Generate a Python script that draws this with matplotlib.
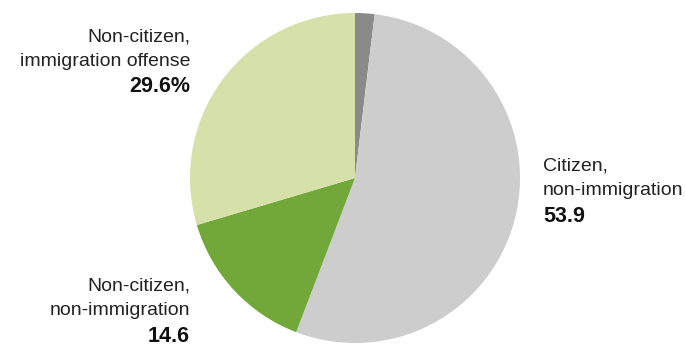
import matplotlib.pyplot as plt

plt.rcParams['font.family'] = ['Liberation Sans', 'DejaVu Sans']

categories = ["Other", "Citizen,\nnon-immigration", "Non-citizen,\nnon-immigration",
              "Non-citizen,\nimmigration offense"]
shares = [1.9, 53.9, 14.6, 29.6]
value_labels = ["", "53.9", "14.6", "29.6%"]
colors = ["#8a8a8a", "#cdcdcd", "#72a83a", "#d6e1aa"]

W, H = 686, 349
fig = plt.figure(figsize=(W / 100, H / 100), dpi=100)

# pie centred at (355, 178) px, radius 165 px
cx, cy, r = 355, 178, 165
ax = fig.add_axes([(cx - r) / W, 1 - (cy + r) / H, 2 * r / W, 2 * r / H])
ax.pie(shares, colors=colors, startangle=90, counterclock=False,
       wedgeprops=dict(linewidth=0))
ax.set_xlim(-1, 1)
ax.set_ylim(-1, 1)
ax.set_aspect('equal')
ax.axis('off')

txt = "#222222"
fs = 14
step = 24.5

def label(x, y_first, name, value, ha):
    lines = name.split("\n")
    for i, line in enumerate(lines):
        fig.text(x / W, 1 - (y_first + i * step) / H, line, ha=ha,
                 va='center', fontsize=fs, color=txt)
    fig.text(x / W, 1 - (y_first + len(lines) * step + 1) / H, value, ha=ha,
             va='center', fontsize=15.5, color='#111111', fontweight='bold')

label(190, 37, categories[3], value_labels[3], 'right')
label(543, 166, categories[1], value_labels[1], 'left')
label(190, 286, categories[2], value_labels[2], 'right')

fig.savefig("out.png", dpi=100)
